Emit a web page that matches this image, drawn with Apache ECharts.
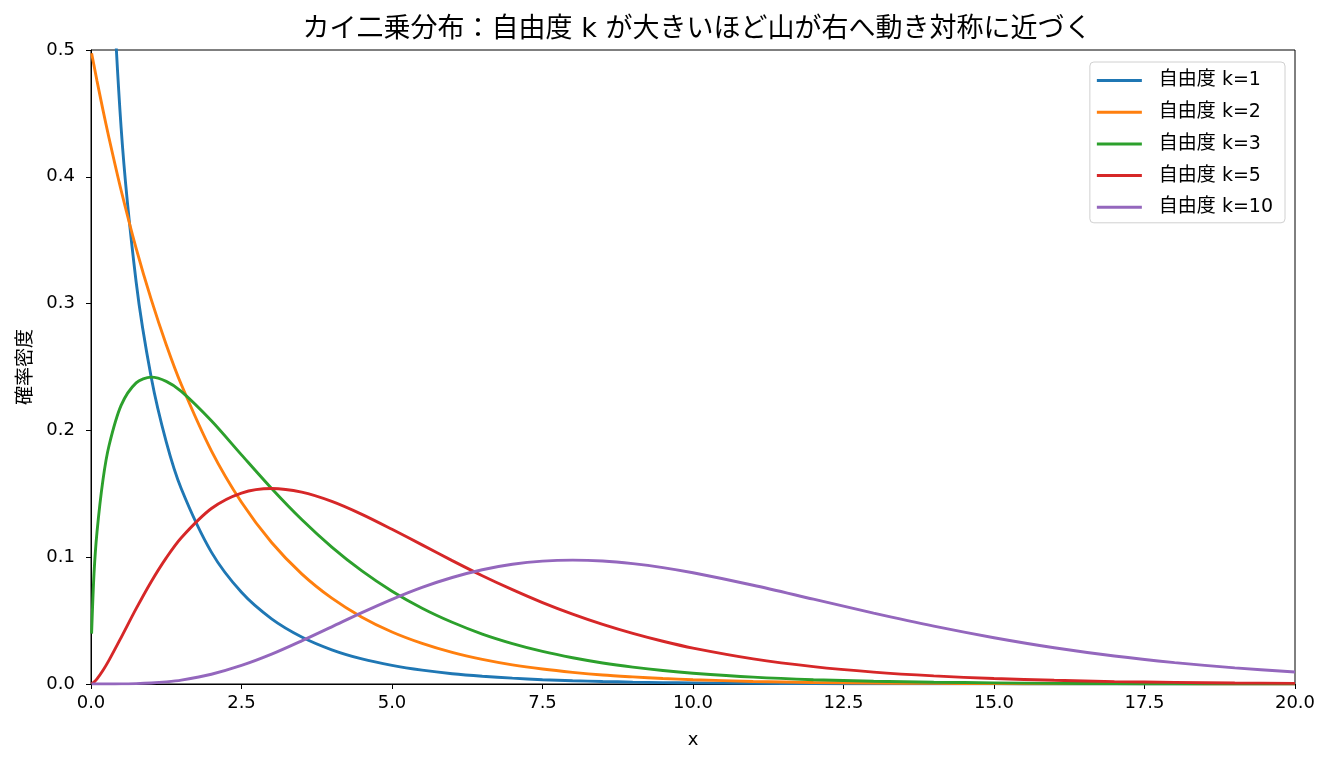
<!DOCTYPE html>
<html>
<head>
<meta charset="utf-8">
<script src="https://cdn.jsdelivr.net/npm/echarts@6/dist/echarts.min.js"></script>
<style>
  html, body { margin: 0; padding: 0; background: #fff; }
  #main { width: 1333px; height: 764px; }
</style>
</head>
<body>
<div id="main"></div>
<script>
// x 座標（グラフから読み取った点）
var xs = [0.01, 0.05, 0.1, 0.2, 0.3, 0.5, 0.75, 1, 1.25, 1.5, 2, 2.5, 3, 3.5, 4, 4.5, 5, 5.5, 6, 6.5,
          7, 7.5, 8, 8.5, 9, 9.5, 10, 11, 12, 13, 14, 15, 16, 17, 18, 19, 20];

var k1 = [3.97, 1.740, 1.200, 0.807, 0.627, 0.439, 0.317, 0.242, 0.191, 0.154, 0.104, 0.0723, 0.0514, 0.0371, 0.0270, 0.0198, 0.0147, 0.0109, 0.0081, 0.0061,
          0.0046, 0.0034, 0.0026, 0.0020, 0.0015, 0.0011, 0.0009, 0.0005, 0.0003, 0.0002, 0.0001, 0.0001, 0.0000, 0.0000, 0.0000, 0.0000, 0.0000];
var k2 = [0.4975, 0.4877, 0.4756, 0.4524, 0.4304, 0.3894, 0.3436, 0.3033, 0.2676, 0.2362, 0.1839, 0.1433, 0.1116, 0.0869, 0.0677, 0.0527, 0.0410, 0.0320, 0.0249, 0.0194,
          0.0151, 0.0118, 0.0092, 0.0071, 0.0056, 0.0043, 0.0034, 0.0020, 0.0012, 0.0008, 0.0005, 0.0003, 0.0002, 0.0001, 0.0001, 0.0000, 0.0000];
var k3 = [0.0397, 0.0870, 0.1200, 0.1614, 0.1881, 0.2197, 0.2375, 0.2420, 0.2387, 0.2308, 0.2076, 0.1807, 0.1542, 0.1297, 0.1080, 0.0892, 0.0732, 0.0598, 0.0487, 0.0394,
          0.0319, 0.0257, 0.0207, 0.0166, 0.0133, 0.0106, 0.0085, 0.0054, 0.0034, 0.0022, 0.0014, 0.0009, 0.0005, 0.0003, 0.0002, 0.0001, 0.0001];
var k5 = [0.0001, 0.0015, 0.0040, 0.0108, 0.0188, 0.0366, 0.0594, 0.0807, 0.0995, 0.1154, 0.1384, 0.1506, 0.1542, 0.1513, 0.1440, 0.1338, 0.1220, 0.1097, 0.0973, 0.0854,
          0.0744, 0.0642, 0.0551, 0.0470, 0.0399, 0.0337, 0.0283, 0.0198, 0.0137, 0.0094, 0.0064, 0.0043, 0.0029, 0.0019, 0.0013, 0.0008, 0.0005];
var k10 = [0.0000, 0.0000, 0.0000, 0.0000, 0.0000, 0.0001, 0.0003, 0.0008, 0.0017, 0.0031, 0.0077, 0.0146, 0.0235, 0.0340, 0.0451, 0.0563, 0.0668, 0.0762, 0.0840, 0.0901,
           0.0944, 0.0969, 0.0977, 0.0970, 0.0949, 0.0918, 0.0877, 0.0779, 0.0669, 0.0559, 0.0456, 0.0365, 0.0286, 0.0221, 0.0169, 0.0127, 0.0095];

var names = ['自由度 k=1', '自由度 k=2', '自由度 k=3', '自由度 k=5', '自由度 k=10'];
var colors = ['#1f77b4', '#ff7f0e', '#2ca02c', '#d62728', '#9467bd'];
var values = [k1, k2, k3, k5, k10];

var font = '"DejaVu Sans", "Noto Sans CJK JP", sans-serif';

function pairs(ys) {
    return xs.map(function (x, i) { return [x, ys[i]]; });
}

var myChart = echarts.init(document.getElementById('main'));

var option = {
    backgroundColor: '#fff',
    textStyle: { fontFamily: font },
    title: {
        text: 'カイ二乗分布：自由度 k が大きいほど山が右へ動き対称に近づく',
        left: 692,
        top: 11,
        textAlign: 'center',
        textStyle: { fontFamily: font, fontSize: 27, fontWeight: 'normal', color: '#000' }
    },
    legend: {
        orient: 'vertical',
        right: 48,
        top: 62,
        padding: [9, 12, 6, 7],
        itemWidth: 45,
        itemHeight: 3,
        itemGap: 12.7,
        icon: 'rect',
        backgroundColor: '#fff',
        borderColor: '#d0d0d0',
        borderWidth: 1,
        borderRadius: 4,
        textStyle: { fontFamily: font, fontSize: 19, color: '#000', padding: [0, 0, 0, 12] },
        data: names
    },
    grid: {
        left: 91,
        right: 38,
        top: 50,
        bottom: 80,
        show: true,
        borderColor: '#000',
        borderWidth: 1
    },
    xAxis: {
        type: 'value',
        min: 0,
        max: 20,
        interval: 2.5,
        name: 'x',
        nameLocation: 'middle',
        nameGap: 47,
        nameTextStyle: { fontFamily: font, fontSize: 18, color: '#000' },
        axisLine: { lineStyle: { color: '#000', width: 1 } },
        axisTick: { show: true, length: 5, lineStyle: { color: '#000' } },
        axisLabel: {
            fontFamily: font, fontSize: 18, color: '#000', margin: 10,
            formatter: function (v) { return v.toFixed(1); }
        },
        splitLine: { show: false }
    },
    yAxis: {
        type: 'value',
        min: 0,
        max: 0.5,
        interval: 0.1,
        name: '確率密度',
        nameLocation: 'middle',
        nameGap: 53,
        nameTextStyle: { fontFamily: font, fontSize: 19, color: '#000' },
        axisLine: { show: true, lineStyle: { color: '#000', width: 1 } },
        axisTick: { show: true, length: 5, lineStyle: { color: '#000' } },
        axisLabel: {
            fontFamily: font, fontSize: 18, color: '#000', margin: 16,
            formatter: function (v) { return v.toFixed(1); }
        },
        splitLine: { show: false }
    },
    series: values.map(function (ys, i) {
        return {
            name: names[i],
            type: 'line',
            data: pairs(ys),
            showSymbol: false,
            symbol: 'none',
            smooth: 0.3,
            clip: true,
            color: colors[i],
            lineStyle: { color: colors[i], width: 2.9 }
        };
    })
};

myChart.setOption(option);

window.onresize = function () {
    myChart.resize();
};
</script>
</body>
</html>
